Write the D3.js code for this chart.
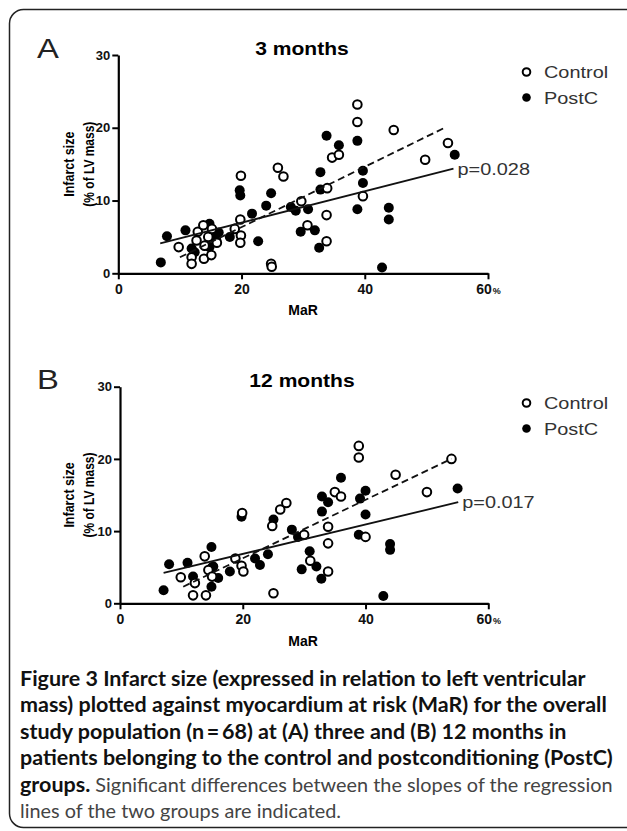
<!DOCTYPE html>
<html>
<head>
<meta charset="utf-8">
<script src="https://cdn.jsdelivr.net/npm/d3@7"></script>
<style>
  body { margin: 0; background: #fff; }
  svg { display: block; }
</style>
</head>
<body>
<svg id="fig" width="627" height="831"></svg>
<script>
// values: [MaR %, infarct size % of LV mass]
const controlA = [[9.8,3.6],[11.9,2.2],[11.9,1.3],[12.7,4.5],[12.9,5.7],[13.8,6.6],[13.9,2.0],[15.1,2.5],[14.6,5.0],[15.2,6.1],[16.0,4.2],[14.0,3.8],[18.9,6.1],[19.8,7.4],[19.9,5.2],[19.8,4.2],[19.9,13.4],[24.8,1.3],[24.9,0.9],[25.9,14.5],[26.8,13.3],[29.7,9.9],[30.7,6.6],[33.8,8.0],[33.8,4.4],[33.9,11.7],[34.7,15.9],[35.8,16.3],[38.8,23.2],[38.8,20.8],[39.7,10.6],[44.7,19.7],[49.8,15.6],[53.5,17.9]];
const postcA = [[6.9,1.5],[7.9,5.1],[10.9,5.9],[11.9,3.4],[12.4,2.9],[14.8,6.8],[15.1,5.4],[15.9,4.6],[14.8,3.6],[16.3,5.6],[18.1,5.0],[19.7,11.4],[19.8,10.7],[21.7,8.2],[22.7,4.4],[24.0,9.3],[24.8,11.0],[28.0,9.1],[28.8,8.6],[29.6,5.7],[30.8,8.8],[31.9,5.9],[32.6,3.5],[32.8,13.9],[32.8,11.5],[33.8,18.9],[35.8,17.6],[38.8,18.2],[38.8,8.8],[39.7,14.1],[39.7,12.4],[42.8,0.8],[43.9,9.0],[43.9,7.4],[54.6,16.3]];
const controlB = [[9.9,3.6],[11.9,1.1],[12.2,2.8],[13.8,6.5],[14.0,1.1],[14.4,4.6],[15.0,3.7],[18.8,6.2],[19.8,5.2],[20.1,4.4],[19.9,12.5],[24.8,10.7],[25.0,1.4],[26.1,13.0],[27.1,13.9],[30.0,9.5],[31.0,5.9],[33.9,10.6],[33.9,8.3],[33.9,4.4],[35.0,15.4],[36.0,14.8],[38.9,21.8],[38.9,20.2],[40.0,9.2],[44.9,17.8],[50.0,15.4],[54.0,20.0]];
const postcB = [[7.1,1.8],[8.0,5.4],[11.0,5.6],[11.9,3.7],[14.9,7.8],[14.9,2.3],[15.0,5.0],[15.2,5.1],[16.0,3.5],[17.9,4.4],[19.8,12.0],[22.0,6.2],[22.8,5.3],[24.1,6.8],[25.0,11.6],[28.0,10.2],[29.0,9.2],[29.6,4.7],[30.9,7.2],[32.0,5.1],[32.8,3.4],[32.9,14.8],[32.9,12.7],[33.9,14.0],[36.0,17.4],[39.1,14.5],[40.0,15.6],[40.0,12.3],[38.9,9.5],[42.9,1.0],[44.0,8.2],[44.0,7.4],[55.0,15.9]];

// regression lines, end points
const controlFitA = [[10.0,2.2],[53.2,20.1]];
const postcFitA = [[6.8,4.1],[54.4,14.4]];
const controlFitB = [[10.3,2.3],[54.0,20.0]];
const postcFitB = [[7.1,4.2],[55.1,14.0]];

const pValues = ["p=0.028", "p=0.017"];
const panelTitles = ["3 months", "12 months"];
const panelLetters = ["A", "B"];
const legendLabels = ["Control", "PostC"];
const xTicks = [0, 20, 40, 60];
const yTicks = [0, 10, 20, 30];

const captionLines = [
  [["Figure 3 Infarct size (expressed in relation to left ventricular", true]],
  [["mass) plotted against myocardium at risk (MaR) for the overall", true]],
  [["study population (n\u2009=\u200968) at (A) three and (B) 12 months in", true]],
  [["patients belonging to the control and postconditioning (PostC)", true]],
  [["groups.", true], [" Significant differences between the slopes of the regression", false]],
  [["lines of the two groups are indicated.", false]]
];

const svg = d3.select("#fig");
const chartFont = "'Liberation Sans', Arial, sans-serif";
const stretch = 1.17; // the figure's text is a little wider than plain Arial

// frame
svg.append("rect")
  .attr("x", 9.5).attr("y", 9.5)
  .attr("width", 680).attr("height", 818)
  .attr("rx", 14)
  .attr("fill", "none")
  .attr("stroke", "#222")
  .attr("stroke-width", 1.5);

const panels = [
  { control: controlA, postc: postcA, cFit: controlFitA, pFit: postcFitA,
    x0: 118.3, x1: 488, top: 55, bottom: 273.3, off: 0 },
  { control: controlB, postc: postcB, cFit: controlFitB, pFit: postcFitB,
    x0: 120, x1: 488.3, top: 386.7, bottom: 603.3, off: 331 }
];

function wideText(g, x, y, anchor) {
  return g.append("text")
    .attr("transform", `translate(${x},${y}) scale(${stretch},1)`)
    .attr("text-anchor", anchor || "start");
}

function drawPanel(p, i) {
  const g = svg.append("g").attr("font-family", chartFont);
  const x = d3.scaleLinear().domain([0, 60]).range([p.x0, p.x1]);
  const y = d3.scaleLinear().domain([0, 30]).range([p.bottom, p.top]);

  // letter and title
  wideText(g, 37, 58 + p.off).attr("font-size", 28).attr("fill", "#222").text(panelLetters[i]);
  wideText(g, 302, 55 + p.off + (i ? 1 : 0), "middle")
    .attr("font-size", 18).attr("font-weight", "bold").text(panelTitles[i]);

  // axes
  const yAxis = g.append("g").attr("transform", `translate(${p.x0},0)`)
    .call(d3.axisLeft(y).tickValues(yTicks).tickSize(6).tickSizeOuter(0).tickPadding(2));
  const xAxis = g.append("g").attr("transform", `translate(0,${p.bottom})`)
    .call(d3.axisBottom(x).tickValues(xTicks).tickSize(6).tickSizeOuter(0).tickPadding(5));
  [yAxis, xAxis].forEach(a => {
    a.select(".domain").attr("stroke", "#000").attr("stroke-width", 2.2);
    a.selectAll(".tick line").attr("stroke", "#000").attr("stroke-width", 2);
    a.selectAll(".tick text").attr("font-size", 14).attr("font-weight", "bold")
      .attr("font-family", chartFont).attr("fill", "#111");
  });
  yAxis.selectAll(".tick text").attr("font-size", 13);
  xAxis.selectAll(".tick text").filter(d => d === 60)
    .append("tspan").attr("font-size", 9).attr("dx", 1).text("%");

  // axis titles
  g.append("text").attr("x", 303).attr("y", 315 + p.off)
    .attr("text-anchor", "middle").attr("font-size", 14).attr("font-weight", "bold")
    .text("MaR");
  const cy = (p.top + p.bottom) / 2;
  g.append("text").attr("transform", `translate(74,${cy}) rotate(-90) scale(1,${stretch})`)
    .attr("text-anchor", "middle").attr("font-size", 12.5).attr("font-weight", "bold")
    .text("Infarct size");
  g.append("text").attr("transform", `translate(94,${cy}) rotate(-90) scale(1,${stretch})`)
    .attr("text-anchor", "middle").attr("font-size", 12).attr("font-weight", "bold")
    .text("(% of LV mass)");

  // points
  g.append("g").selectAll("circle").data(p.postc).join("circle")
    .attr("cx", d => x(d[0])).attr("cy", d => y(d[1]))
    .attr("r", 5).attr("fill", "#000");
  g.append("g").selectAll("circle").data(p.control).join("circle")
    .attr("cx", d => x(d[0])).attr("cy", d => y(d[1]))
    .attr("r", 4.3).attr("fill", "#fff").attr("stroke", "#000").attr("stroke-width", 2);

  // regression lines
  const line = d3.line().x(d => x(d[0])).y(d => y(d[1]));
  g.append("path").attr("d", line(p.cFit)).attr("fill", "none")
    .attr("stroke", "#111").attr("stroke-width", 1.8).attr("stroke-dasharray", "7,4");
  g.append("path").attr("d", line(p.pFit)).attr("fill", "none")
    .attr("stroke", "#111").attr("stroke-width", 1.8);

  const end = p.pFit[1];
  wideText(g, x(end[0]) + 4, y(end[1]) + 6)
    .attr("font-size", 17).attr("fill", "#333").text(pValues[i]);

  // legend
  const ly = [72, 97.5];
  g.append("circle").attr("cx", 526.5).attr("cy", ly[0] + p.off).attr("r", 3.8)
    .attr("fill", "#fff").attr("stroke", "#000").attr("stroke-width", 2);
  g.append("circle").attr("cx", 526.5).attr("cy", ly[1] + p.off).attr("r", 4.3)
    .attr("fill", "#000");
  legendLabels.forEach((t, k) => {
    wideText(g, 544, ly[k] + 6 + p.off)
      .attr("font-size", 17).attr("fill", "#333").text(t);
  });
}

panels.forEach(drawPanel);

// caption: bold and regular sizes chosen so lines 4 and 5 reach the right edge as in the reference
const cap = svg.append("g").attr("font-family", "Lato, 'Open Sans', sans-serif");
const capTexts = captionLines.map((parts, k) => {
  const t = cap.append("text").attr("x", 20).attr("y", 686 + k * 26.4);
  parts.forEach(([s, bold]) => {
    t.append("tspan").attr("class", bold ? "b" : "r")
      .attr("font-size", 20)
      .attr("font-weight", bold ? 700 : 400)
      .attr("fill", bold ? "#111" : "#444").text(s);
  });
  return t;
});
const target = 593;
const fsB = 20 * target / capTexts[3].node().getComputedTextLength();
cap.selectAll("tspan.b").attr("font-size", fsB);
const l5 = capTexts[4].selectAll("tspan").nodes();
const fsR = 20 * (target - l5[0].getComputedTextLength()) / l5[1].getComputedTextLength();
cap.selectAll("tspan.r").attr("font-size", fsR);
</script>
</body>
</html>
